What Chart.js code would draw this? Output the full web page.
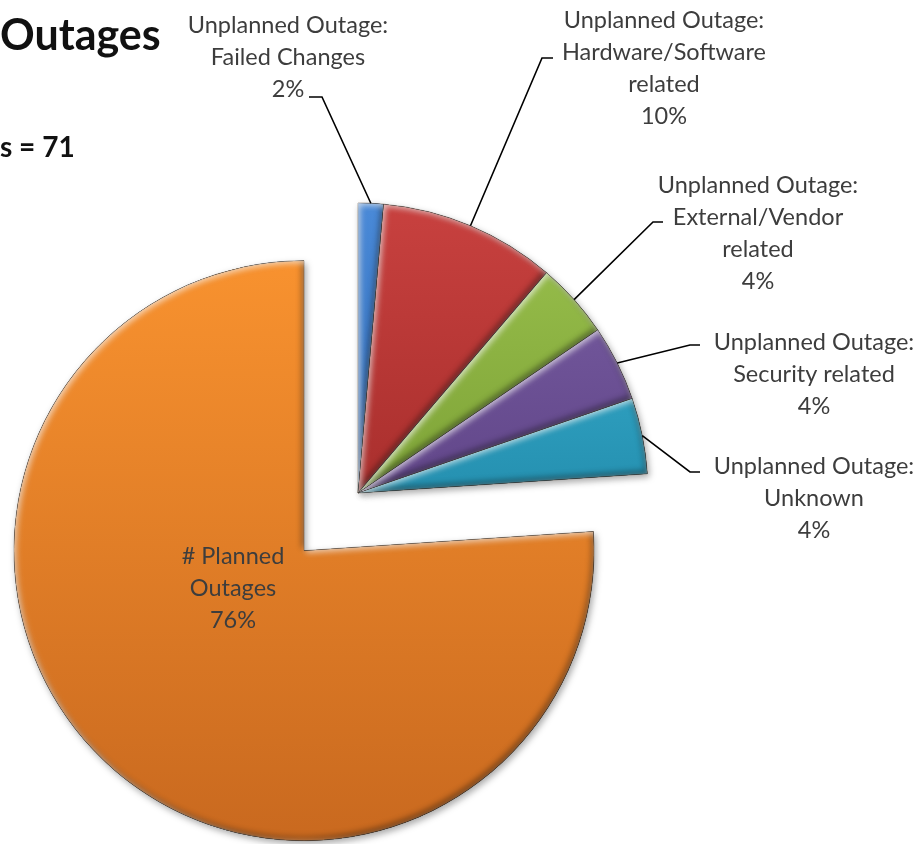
<!DOCTYPE html>
<html>
<head>
<meta charset="utf-8">
<script src="https://cdn.jsdelivr.net/npm/chart.js@4.4.1/dist/chart.umd.min.js"></script>
<style>
  html, body { margin: 0; padding: 0; background: #fff; }
  #wrap { position: relative; width: 922px; height: 844px; }
</style>
</head>
<body>
<div id="wrap"><canvas id="chart"></canvas></div>
<script>
// slices, clockwise from 12 o'clock
const categories = [
  "Unplanned Outage: Failed Changes",
  "Unplanned Outage: Hardware/Software related",
  "Unplanned Outage: External/Vendor related",
  "Unplanned Outage: Security related",
  "Unplanned Outage: Unknown",
  "# Planned Outages"
];
const outages = [1, 7, 3, 3, 3, 54];
const pctLabels = ["2%", "10%", "4%", "4%", "4%", "76%"];
const labelLines = [
  ["Unplanned Outage:", "Failed Changes"],
  ["Unplanned Outage:", "Hardware/Software", "related"],
  ["Unplanned Outage:", "External/Vendor", "related"],
  ["Unplanned Outage:", "Security related"],
  ["Unplanned Outage:", "Unknown"],
  ["# Planned", "Outages"]
];
const titleText = "Outages";
const totalText = "s = 71";

// top / bottom shade of each slice
const shades = [
  ["#4a8ad8", "#2e68b4"],
  ["#c8413f", "#a92f2d"],
  ["#9bc24e", "#7ea337"],
  ["#7c61a6", "#614689"],
  ["#3db8d8", "#2590b0"],
  ["#f8922f", "#c9691f"]
];
const explode = [0, 0, 0, 0, 0, 79];
const R = 290;

// label box positions + leader line elbows
const callouts = [
  { x: 288, y: 25, elbow: [322, 97], end: [309, 97] },
  { x: 664, y: 20, elbow: [542, 58], end: [553, 58] },
  { x: 758, y: 185, elbow: [653, 222], end: [663, 222] },
  { x: 814, y: 342, elbow: [690, 345], end: [700, 345] },
  { x: 814, y: 466, elbow: [690, 472], end: [700, 472] },
  { x: 233, y: 556 }
];
const FONT = "Lato, 'Open Sans', sans-serif";

function arcPath(el) {
  const p = new Path2D();
  p.moveTo(el.x, el.y);
  p.arc(el.x, el.y, el.outerRadius, el.startAngle, el.endAngle);
  p.closePath();
  return p;
}

const piePlugin = {
  id: "pieDecor",
  afterDatasetUpdate(chart, args) {
    // pull slices out along their middle angle
    chart.getDatasetMeta(args.index).data.forEach((arc, i) => {
      const d = explode[i];
      if (!d) return;
      const mid = (arc.startAngle + arc.endAngle) / 2;
      arc.x += Math.cos(mid) * d;
      arc.y += Math.sin(mid) * d;
    });
  },
  beforeDatasetsDraw(chart) {
    const ctx = chart.ctx;
    ctx.save();
    ctx.shadowColor = "rgba(0,0,0,0.35)";
    ctx.shadowBlur = 7;
    ctx.shadowOffsetX = 2;
    ctx.shadowOffsetY = 3;
  },
  afterDatasetsDraw(chart) {
    const ctx = chart.ctx;
    ctx.restore();
    const arcs = chart.getDatasetMeta(0).data;

    // bevel: dark rim bottom-right, light rim top-left
    arcs.forEach(el => {
      const p = arcPath(el);
      const hole = new Path2D();
      hole.rect(0, 0, chart.width, chart.height);
      hole.addPath(p);
      [["rgba(0,0,0,0.45)", -2, -3], ["rgba(255,255,255,0.7)", 2, 2]].forEach(([c, ox, oy]) => {
        ctx.save();
        ctx.clip(p);
        ctx.shadowColor = c;
        ctx.shadowBlur = 6;
        ctx.shadowOffsetX = ox;
        ctx.shadowOffsetY = oy;
        ctx.fillStyle = "#000";
        ctx.fill(hole, "evenodd");
        ctx.restore();
      });
    });

    // data labels
    ctx.save();
    ctx.fillStyle = "#3d3d3d";
    ctx.font = "23.5px " + FONT;
    ctx.textAlign = "center";
    ctx.textBaseline = "middle";
    arcs.forEach((el, i) => {
      const c = callouts[i];
      const lines = labelLines[i].concat(pctLabels[i]);
      lines.forEach((t, k) => ctx.fillText(t, c.x, c.y + k * 32));
      if (!c.elbow) return;
      const mid = (el.startAngle + el.endAngle) / 2;
      ctx.beginPath();
      ctx.moveTo(el.x + Math.cos(mid) * el.outerRadius, el.y + Math.sin(mid) * el.outerRadius);
      ctx.lineTo(c.elbow[0], c.elbow[1]);
      ctx.lineTo(c.end[0], c.end[1]);
      ctx.strokeStyle = "#000";
      ctx.lineWidth = 1.6;
      ctx.stroke();
    });

    // title (cut at left edge like the source)
    ctx.fillStyle = "#111";
    ctx.textAlign = "left";
    ctx.textBaseline = "alphabetic";
    ctx.font = "bold 43px " + FONT;
    ctx.fillText(titleText, 0, 50);
    ctx.font = "bold 28px " + FONT;
    ctx.fillText(totalText, 0, 157);
    ctx.restore();
  }
};

new Chart(document.getElementById("chart"), {
  type: "pie",
  data: {
    labels: categories,
    datasets: [{
      data: outages,
      backgroundColor: (c) => {
        const area = c.chart.chartArea;
        const i = c.dataIndex;
        if (!area || i === undefined) return shades[0][0];
        const cx = (area.left + area.right) / 2;
        const cy = (area.top + area.bottom) / 2;
        const top = i === 5 ? cy + 58 - R : cy - R;
        const bot = i === 5 ? cy + 58 + R : cy;
        const g = c.chart.ctx.createLinearGradient(0, top, 0, bot);
        g.addColorStop(0, shades[i][0]);
        g.addColorStop(1, shades[i][1]);
        return g;
      },
      borderColor: "rgba(60,40,20,0.35)",
      borderWidth: 1
    }]
  },
  options: {
    responsive: true,
    maintainAspectRatio: false,
    animation: false,
    radius: R,
    layout: { padding: { left: 0, right: 206, top: 142, bottom: 0 } },
    plugins: {
      legend: { display: false },
      tooltip: { enabled: false },
      title: { display: false }
    }
  },
  plugins: [piePlugin]
});
</script>
</body>
</html>
